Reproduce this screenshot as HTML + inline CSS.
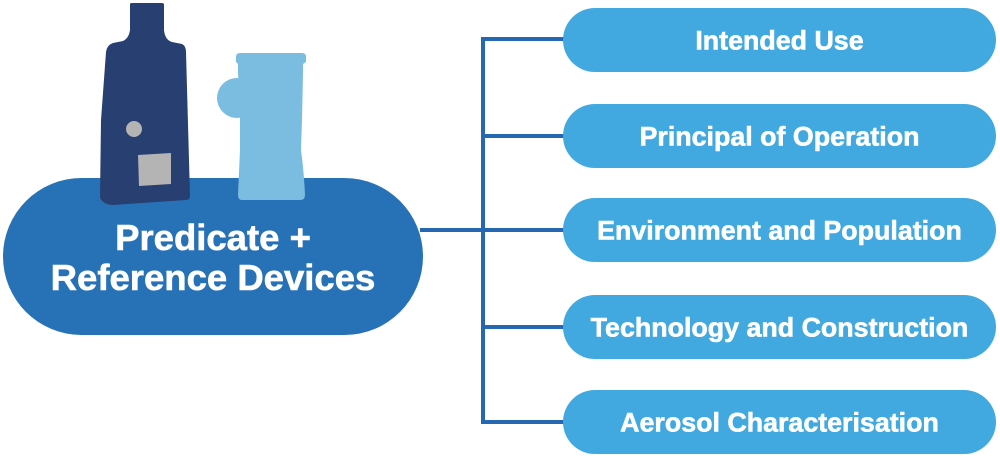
<!DOCTYPE html>
<html>
<head>
<meta charset="utf-8">
<style>
  html,body{margin:0;padding:0;background:#ffffff;}
  body{width:1000px;height:458px;overflow:hidden;}
  svg{display:block;}
  text{font-family:"Liberation Sans",Arial,sans-serif;font-weight:bold;fill:#ffffff;stroke:#ffffff;stroke-width:0.6;}
</style>
</head>
<body>
<svg width="1000" height="458" viewBox="0 0 1000 458" xmlns="http://www.w3.org/2000/svg">
  <!-- connectors -->
  <g fill="#2567b0">
    <rect x="420" y="228" width="64" height="4"/>
    <rect x="481" y="37" width="4" height="387"/>
    <rect x="481" y="37" width="86" height="4"/>
    <rect x="481" y="134" width="86" height="4"/>
    <rect x="481" y="228" width="86" height="4"/>
    <rect x="481" y="325" width="86" height="4"/>
    <rect x="481" y="420" width="86" height="4"/>
  </g>

  <!-- right pills -->
  <g fill="#41a9df">
    <rect x="563" y="8" width="433" height="64" rx="32" ry="32"/>
    <rect x="563" y="104" width="433" height="64" rx="32" ry="32"/>
    <rect x="563" y="198" width="433" height="64" rx="32" ry="32"/>
    <rect x="563" y="295" width="433" height="64" rx="32" ry="32"/>
    <rect x="563" y="390" width="433" height="64" rx="32" ry="32"/>
  </g>
  <g font-size="26.8" text-anchor="middle">
    <text x="779.5" y="49.5">Intended Use</text>
    <text x="779.5" y="145.5">Principal of Operation</text>
    <text x="779.5" y="239.5">Environment and Population</text>
    <text x="779.5" y="336.5">Technology and Construction</text>
    <text x="779.5" y="431.5">Aerosol Characterisation</text>
  </g>

  <!-- left pill -->
  <rect x="3" y="178" width="420" height="157" rx="78.5" ry="78.5" fill="#2771b6"/>

  <!-- dark device -->
  <path d="M130,4 Q130,3 132,3 L162,3 Q164,3 164,5 L164,30 Q165,40 172,42 L182,44 Q186,46 186,52 L190,196 Q190,200 186,200 L113,205 Q104,205 100,198 L101,120 L106,52 Q107,45 113,43 L123,41 Q129,38 130,30 Z" fill="#283f72"/>
  <circle cx="134" cy="129" r="8" fill="#b4b4b4"/>
  <polygon points="138,155 171,153 171,184 139,186" fill="#b4b4b4"/>

  <!-- light device -->
  <path d="M236,57 Q236,53 240,53 L302,53 Q306,53 306,57 L306,62 L303,64 L303,72 L302,120 L301,150 Q304,172 305,195 Q305,200 300,200 L242,200 Q238,200 238,195 Q239,172 240,150 L240,118 L238,72 L238,64 L236,62 Z" fill="#7bbde1"/>
  <circle cx="237" cy="98" r="20" fill="#7bbde1"/>

  <!-- left text -->
  <g font-size="36.5" text-anchor="middle">
    <text x="213" y="250">Predicate +</text>
    <text x="213" y="290">Reference Devices</text>
  </g>
</svg>
</body>
</html>
